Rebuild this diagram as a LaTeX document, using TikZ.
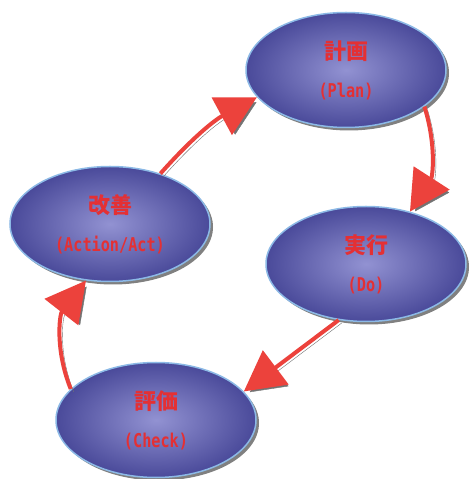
\documentclass[tikz,border=0pt]{standalone}
\usepackage{fontspec}
\usetikzlibrary{shapes.geometric,shadows,positioning,arrows.meta}
\newfontfamily\jpfont{Noto Sans CJK JP}
\newfontfamily\latfont[FakeStretch=0.8]{DejaVu Sans Mono}
\definecolor{phasein}{RGB}{146,146,210}
\definecolor{phaseout}{RGB}{74,74,154}
\definecolor{phaserim}{RGB}{140,185,230}
\definecolor{labelred}{RGB}{228,48,52}
\definecolor{flowred}{RGB}{236,66,60}
\newcommand{\phasetext}[2]{{\jpfont\bfseries\fontsize{22}{38}\selectfont #1}\\{\latfont\bfseries\fontsize{19}{38}\selectfont #2}}

\begin{document}
\begin{tikzpicture}[x=1pt, y=1pt,
    phase/.style={ellipse, minimum width=200pt, minimum height=115pt, inner sep=0pt,
      draw=phaserim, line width=1.5pt, inner color=phasein, outer color=phaseout,
      drop shadow={shadow xshift=3pt, shadow yshift=-3pt, fill=black!50, opacity=1},
      text=labelred, align=center, font=\fontsize{20}{38}\selectfont},
    flow/.style={-{Triangle[length=40pt,width=42pt]}, draw=flowred, line width=4pt,
      preaction={draw=black!55, transform canvas={shift={(3pt,-3pt)}}}}]
			\useasboundingbox (0,0) rectangle (470,479);
			\fill[white] (0,0) rectangle (470,479);

			\node[phase] (plan) at (346,409) {\phasetext{計画}{(Plan)}};
			\node[phase, on grid] (do) [below right=194pt and 20pt of plan] {\phasetext{実行}{(Do)}};
			\node[phase, on grid] (check) [below left=156pt and 210pt of do] {\phasetext{評価}{(Check)}};
			\node[phase, on grid] (act) [above left=196pt and 46pt of check] {\phasetext{改善}{(Action/Act)}};

			\path (act.45) edge[flow, bend left=10] (plan.197);
			\path (plan.-25) edge[flow, bend left=25] (do.50);
			\path (do.244) edge[flow] (check.18);
			\path (check.160) edge[flow, bend left=30] (act.247);
		\end{tikzpicture}
\end{document}
